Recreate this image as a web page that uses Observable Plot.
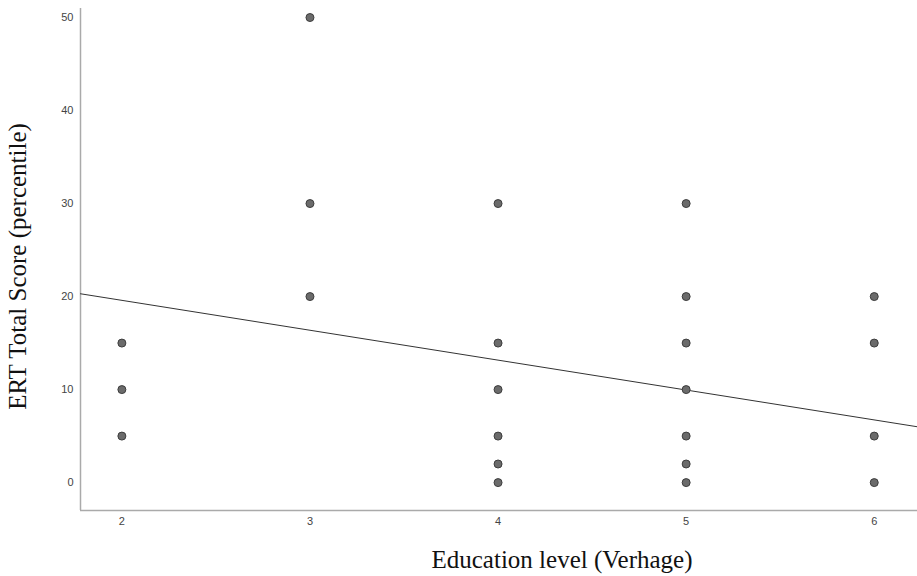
<!DOCTYPE html>
<html>
<head>
<meta charset="utf-8">
<script src="https://cdn.jsdelivr.net/npm/d3@7"></script>
<script src="https://cdn.jsdelivr.net/npm/@observablehq/plot@0.6"></script>
<style>
  html, body { margin: 0; padding: 0; background: #fff; }
  #chart svg { display: block; }
</style>
</head>
<body>
<div id="chart"></div>
<script>
// Education level (x) and ERT percentile (y) for each plotted point
const eduLevel = [2, 2, 2, 3, 3, 3, 4, 4, 4, 4, 4, 4, 5, 5, 5, 5, 5, 5, 5, 6, 6, 6, 6];
const ertScore = [15, 10, 5, 50, 30, 20, 30, 15, 10, 5, 2, 0, 30, 20, 15, 10, 5, 2, 0, 20, 15, 5, 0];

// Fitted regression line (endpoints at axis edges)
const fitX = [1.78, 6.23];
const fitY = [20.3, 6.0];

// Axis setup
const xDomain = [1.78, 6.23];
const yDomain = [-3.0, 50.97];
const xTicks = [2, 3, 4, 5, 6];
const yTicks = [0, 10, 20, 30, 40, 50];
const xTitle = "Education level (Verhage)";
const yTitle = "ERT Total Score (percentile)";

const points = eduLevel.map((x, i) => ({x, y: ertScore[i]}));
const fit = fitX.map((x, i) => ({x, y: fitY[i]}));
const serif = "Liberation Serif, Times New Roman, serif";
const sans = "Liberation Sans, Arial, sans-serif";

const chart = Plot.plot({
  width: 917,
  height: 576,
  marginLeft: 80,
  marginRight: 0,
  marginTop: 8,
  marginBottom: 66,
  style: {background: "#fff", overflow: "visible"},
  x: {domain: xDomain, axis: null},
  y: {domain: yDomain, axis: null},
  marks: [
    Plot.axisY(yTicks, {tickSize: 0, tickPadding: 7, fontSize: 11, fontFamily: sans, fill: "#444", label: null, tickFormat: d => String(d)}),
    Plot.axisX(xTicks, {tickSize: 0, tickPadding: 7, fontSize: 11, fontFamily: sans, fill: "#444", label: null, tickFormat: d => String(d)}),
    Plot.ruleX([xDomain[0]], {stroke: "#aaa", strokeWidth: 1.5}),
    Plot.ruleY([yDomain[0]], {stroke: "#aaa", strokeWidth: 1.5}),
    Plot.line(fit, {x: "x", y: "y", stroke: "#333", strokeWidth: 1}),
    Plot.dot(points, {x: "x", y: "y", r: 4, fill: "#6b6b6b", stroke: "#3d3d3d", strokeWidth: 1}),
    Plot.text([xTitle], {frameAnchor: "bottom", textAnchor: "middle", lineAnchor: "middle", dx: 63, dy: 49, fontSize: 25, fontFamily: serif, fill: "#111"}),
    Plot.text([yTitle], {frameAnchor: "left", textAnchor: "middle", lineAnchor: "middle", rotate: -90, dx: -63, dy: 7, fontSize: 25, fontFamily: serif, fill: "#111"})
  ]
});
document.getElementById("chart").appendChild(chart);
</script>
</body>
</html>
